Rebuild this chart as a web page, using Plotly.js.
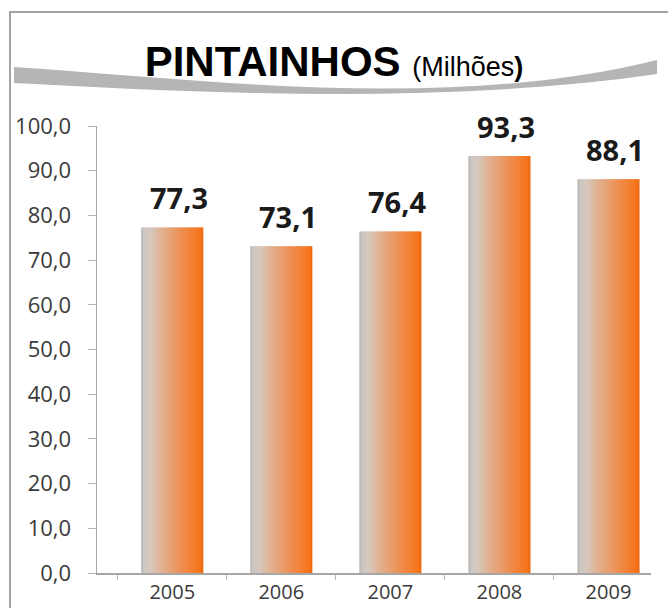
<!DOCTYPE html>
<html>
<head>
<meta charset="utf-8">
<script src="https://cdn.plot.ly/plotly-3.0.1.min.js"></script>
<style>
  html, body { margin: 0; padding: 0; background: #ffffff; }
  #chart { width: 668px; height: 608px; }
</style>
</head>
<body>
<div id="chart"></div>
<script>
// ---- data ----
const years = ['2005', '2006', '2007', '2008', '2009'];
const values = [77.3, 73.1, 76.4, 93.3, 88.1];
const valueLabels = ['77,3', '73,1', '76,4', '93,3', '88,1'];
const yTickVals = [0, 10, 20, 30, 40, 50, 60, 70, 80, 90, 100];

// ---- styling helpers ----
const W = 668, H = 608;
const M = { l: 97, r: 17, t: 126, b: 35 };
const PW = W - M.l - M.r, PH = H - M.t - M.b;
const px = x => (x - M.l) / PW;          // pixel -> paper x
const py = y => (H - M.b - y) / PH;      // pixel -> paper y

const stops = [
  [0.00, [184, 181, 179]],
  [0.05, [204, 199, 195]],
  [0.15, [214, 200, 190]],
  [0.35, [226, 174, 140]],
  [0.60, [236, 148, 92]],
  [0.82, [243, 128, 50]],
  [0.95, [247, 116, 26]],
  [1.00, [230, 102, 14]]
];
function gradColor(t) {
  for (let i = 1; i < stops.length; i++) {
    if (t <= stops[i][0]) {
      const a = stops[i - 1], b = stops[i];
      const f = (t - a[0]) / (b[0] - a[0]);
      const c = a[1].map((v, k) => Math.round(v + (b[1][k] - v) * f));
      return `rgb(${c[0]},${c[1]},${c[2]})`;
    }
  }
  const c = stops[stops.length - 1][1];
  return `rgb(${c[0]},${c[1]},${c[2]})`;
}

const barW = 0.57;
const N = 30;
const traces = [];
for (let i = 0; i < N; i++) {
  const sw = barW / N;
  traces.push({
    type: 'bar',
    x: years,
    y: values,
    offset: -barW / 2 + i * sw,
    width: sw * (i === N - 1 ? 1 : 1.6),
    marker: { color: gradColor((i + 0.5) / N), line: { width: 0 } },
    hoverinfo: 'skip',
    showlegend: false
  });
}

const annotations = years.map((yr, i) => ({
  x: i, y: values[i], xref: 'x', yref: 'y',
  text: '<b>' + valueLabels[i] + '</b>',
  showarrow: false, yanchor: 'bottom', xanchor: 'center',
  xshift: 7, yshift: 8,
  font: { family: 'Open Sans', size: 29, color: '#1a1a1a' }
}));

// swoosh behind title (cubic curves)
const f = p => `${px(p[0])},${py(p[1])}`;
const swooshPath =
  `M ${f([14, 67])} C ${f([220, 81])} ${f([450, 111])} ${f([657, 60])} ` +
  `L ${f([657, 74])} C ${f([450, 104])} ${f([220, 94])} ${f([14, 83])} Z`;

const shapes = [
  { type: 'path', xref: 'paper', yref: 'paper', path: swooshPath,
    fillcolor: '#b5b5b5', line: { width: 0 }, layer: 'below' },
  { type: 'rect', xref: 'paper', yref: 'paper',
    x0: px(10), x1: px(720), y0: py(660), y1: py(12),
    line: { color: '#a3a3a3', width: 2 }, fillcolor: 'rgba(0,0,0,0)', layer: 'below' }
];

const layout = {
  width: W, height: H,
  margin: M,
  paper_bgcolor: '#ffffff', plot_bgcolor: 'rgba(0,0,0,0)',
  separators: ',.',
  barmode: 'overlay',
  showlegend: false,
  title: {
    text: '<b>PINTAINHOS</b> <span style="font-size:27px">(Milhões<b>)</b></span>',
    font: { family: 'Liberation Sans', size: 42, color: '#000000' },
    x: 334 / W, xanchor: 'center', xref: 'container',
    y: 1 - 61 / H, yanchor: 'middle', yref: 'container'
  },
  xaxis: {
    type: 'category',
    range: [-0.69, 4.39],
    showgrid: false, zeroline: false,
    showline: true, linecolor: '#a6a6a6', linewidth: 1.5,
    ticks: 'outside', ticklen: 5, tickcolor: '#b5b5b5', tickson: 'boundaries',
    tickfont: { family: 'Open Sans', size: 20, color: '#3a3a3a' },
    fixedrange: true
  },
  yaxis: {
    range: [0, 100],
    tickvals: yTickVals,
    tickformat: '.1f',
    showgrid: false, zeroline: false,
    showline: true, linecolor: '#a6a6a6', linewidth: 1.5,
    ticks: 'outside', ticklen: 8, tickcolor: '#b5b5b5',
    tickfont: { family: 'Open Sans', size: 22, color: '#3a3a3a' },
    ticklabelstandoff: 12,
    fixedrange: true
  },
  shapes: shapes,
  annotations: annotations
};

Plotly.newPlot('chart', traces, layout, { displayModeBar: false, staticPlot: true });
</script>
</body>
</html>
